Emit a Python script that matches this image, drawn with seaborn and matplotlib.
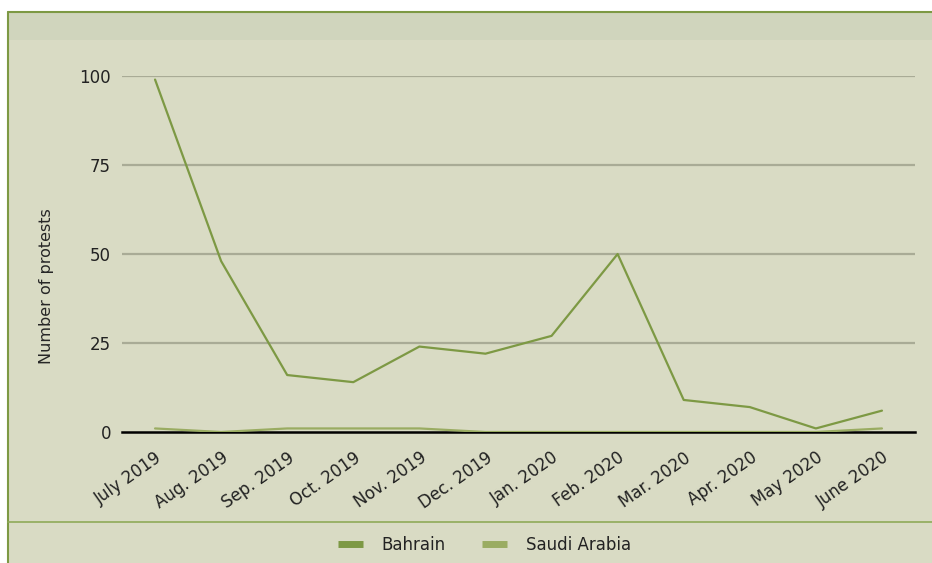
import numpy as np
import pandas as pd
import matplotlib
matplotlib.use("Agg")
import matplotlib.pyplot as plt
import seaborn as sns
from matplotlib.lines import Line2D
from matplotlib.patches import Rectangle

months = ["July 2019", "Aug. 2019", "Sep. 2019", "Oct. 2019", "Nov. 2019", "Dec. 2019",
          "Jan. 2020", "Feb. 2020", "Mar. 2020", "Apr. 2020", "May 2020", "June 2020"]
bahrain = [99, 48, 16, 14, 24, 22, 27, 50, 9, 7, 1, 6]
saudi = [1, 0, 1, 1, 1, 0, 0, 0, 0, 0, 0, 1]
countries = ["Bahrain", "Saudi Arabia"]
colors = ["#7d9944", "#9aac62"]

df = pd.DataFrame({
    "month": list(range(len(months))) * 2,
    "protests": bahrain + saudi,
    "country": [countries[0]] * len(months) + [countries[1]] * len(months),
})

sns.set_style("white")
plt.rcParams["font.family"] = ["DejaVu Sans"]
plt.rcParams["text.color"] = "#222222"
plt.rcParams["xtick.color"] = "black"
plt.rcParams["xtick.labelcolor"] = "#222222"
plt.rcParams["ytick.labelcolor"] = "#222222"

bg = "#d9dbc4"
fig = plt.figure(figsize=(9.32, 5.63), dpi=100, facecolor=bg)

# header strip and frame
fig.patches.append(Rectangle((0, 1 - 12 / 563), 1, 12 / 563, transform=fig.transFigure,
                             facecolor="white", edgecolor="none", zorder=0))
fig.patches.append(Rectangle((8 / 932, 1 - 40 / 563), 1, 28 / 563, transform=fig.transFigure,
                             facecolor="#d0d5bd", edgecolor="none", zorder=0))
fig.patches.append(Rectangle((0, 0), 8 / 932, 1 - 12 / 563, transform=fig.transFigure,
                             facecolor="white", edgecolor="none", zorder=0))
fig.lines.append(Line2D([8 / 932, 1], [1 - 12 / 563] * 2, transform=fig.transFigure,
                        color="#7d9944", lw=1.5))
fig.lines.append(Line2D([8 / 932] * 2, [0, 1 - 12 / 563], transform=fig.transFigure,
                        color="#7d9944", lw=1.5))
fig.lines.append(Line2D([8 / 932, 1], [1 - 522 / 563] * 2, transform=fig.transFigure,
                        color="#8faa58", lw=1.2))

ax = fig.add_axes([122 / 932, 131 / 563, 793 / 932, 356 / 563])
ax.set_facecolor(bg)

sns.lineplot(data=df, x="month", y="protests", hue="country", palette=colors,
             linewidth=1.6, ax=ax, legend=False, zorder=3)

ax.set_xlim(-0.5, 11.5)
ax.set_ylim(0, 100)
ax.set_yticks([0, 25, 50, 75, 100])
ax.set_xticks(range(len(months)))
ax.set_xticklabels(months, rotation=35, ha="right", rotation_mode="anchor", fontsize=12)
ax.tick_params(axis="y", length=0, labelsize=12, pad=8)
ax.tick_params(axis="x", length=7, width=1.5, direction="out", pad=5)
for v in [25, 50, 75, 100]:
    ax.axhline(v, color="#a9ab96", lw=1.6, zorder=1)
for s in ["top", "right", "left"]:
    ax.spines[s].set_visible(False)
ax.spines["bottom"].set_color("black")
ax.spines["bottom"].set_linewidth(1.8)
ax.spines["bottom"].set_zorder(2)
ax.set_xlabel("")
ax.set_ylabel("Number of protests", fontsize=11.5)
ax.yaxis.set_label_coords(-0.086, 0.41)

handles = [Line2D([], [], color=c, lw=5, solid_capstyle="butt") for c in colors]
fig.legend(handles, countries, loc="center", bbox_to_anchor=(0.52, 1 - 545 / 563), ncol=2,
           frameon=False, fontsize=12, handlelength=1.5, columnspacing=2.2, handletextpad=1.1)

fig.savefig("out.png", dpi=100, facecolor=bg)
